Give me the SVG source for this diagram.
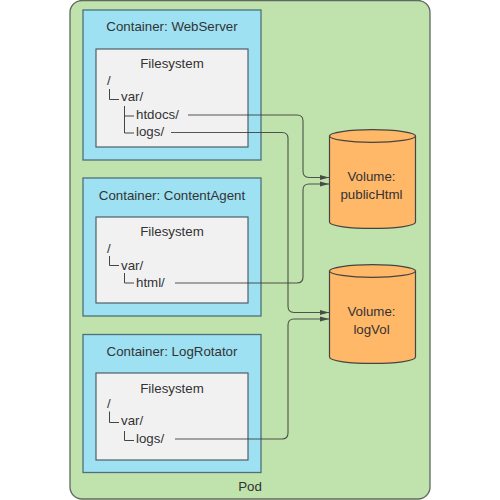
<svg xmlns="http://www.w3.org/2000/svg" width="500" height="500" viewBox="0 0 500 500">
<style>
text{font-family:"Liberation Sans",Arial,sans-serif;font-size:13.3px;fill:#333}
.m{text-anchor:middle}
.pod{fill:#c0e2ac;stroke:#5f6a5f;stroke-width:1.3}
.c{fill:#9de1f3;stroke:#4f6f7a;stroke-width:1.3}
.f{fill:#f1f1f2;stroke:#4f5f66;stroke-width:1.2}
.t{fill:none;stroke:#444;stroke-width:1}
.v{fill:#ffb768;stroke:#444;stroke-width:1.2}
.l{fill:none;stroke:#3a3a3a;stroke-width:1.1;opacity:.85}
</style>
<defs><marker id="a" markerUnits="userSpaceOnUse" markerWidth="9" markerHeight="6" refX="9" refY="3" orient="auto"><path d="M0 .6L9 3L0 5.400Z" fill="#333"/></marker></defs>
<g id="pod"><rect class="pod" x="70" y="0.5" width="360" height="498.5" rx="12"/><text class="m" x="250" y="490.500">Pod</text></g>
<g id="webserver"><rect class="c" x="83" y="10" width="178" height="150"/><text class="m" x="172" y="31">Container: WebServer</text>
<rect class="f" x="96" y="49" width="152" height="98"/><text class="m" x="172" y="68">Filesystem</text>
<text x="107" y="85">/</text><text x="121" y="101">var/</text><text x="136" y="118.500">htdocs/</text><text x="136" y="136">logs/</text>
<path class="t" d="M109.500 89V99.500H119M124.500 106V133H134M124.500 116H134"/></g>
<g id="contentagent"><rect class="c" x="83" y="178" width="178" height="138"/><text class="m" x="172" y="200">Container: ContentAgent</text>
<rect class="f" x="96" y="217" width="152" height="86"/><text class="m" x="172" y="236">Filesystem</text>
<text x="107" y="252.500">/</text><text x="121" y="269.500">var/</text><text x="136" y="286.500">html/</text>
<path class="t" d="M109.500 256V265.500H119M124.500 273V283H134"/></g>
<g id="logrotator"><rect class="c" x="83" y="334.500" width="178" height="138"/><text class="m" x="172" y="356">Container: LogRotator</text>
<rect class="f" x="96" y="373" width="152" height="87"/><text class="m" x="172" y="392.500">Filesystem</text>
<text x="107" y="408">/</text><text x="121" y="425">var/</text><text x="136" y="443">logs/</text>
<path class="t" d="M109.500 411.500V422.500H119M124.500 431V440.500H134"/></g>
<g id="publicHtml"><path class="v" d="M329.500 136V222C329.500 230.500 415.500 230.500 415.500 222V136Z"/><ellipse class="v" cx="372.500" cy="136" rx="43" ry="6.300"/><text class="m" x="371.500" y="181">Volume:</text><text class="m" x="371.500" y="198.500">publicHtml</text></g>
<g id="logVol"><path class="v" d="M329.500 271V357C329.500 365.500 415.500 365.500 415.500 357V271Z"/><ellipse class="v" cx="372.500" cy="271" rx="43" ry="6.300"/><text class="m" x="371.500" y="316">Volume:</text><text class="m" x="371.500" y="333.500">logVol</text></g>
<g id="connectors">
<path class="l" marker-end="url(#a)" d="M188 115H297Q303 115 303 121V171Q303 177.500 309 177.500H329"/>
<path class="l" marker-end="url(#a)" d="M171 132.500H282Q288 132.500 288 138.500V306Q288 312.500 294 312.500H329"/>
<path class="l" marker-end="url(#a)" d="M175 283H297Q303 283 303 277V190Q303 184 309 184H329"/>
<path class="l" marker-end="url(#a)" d="M175 439H282Q288 439 288 433V325Q288 319 294 319H329"/>
</g>
</svg>
